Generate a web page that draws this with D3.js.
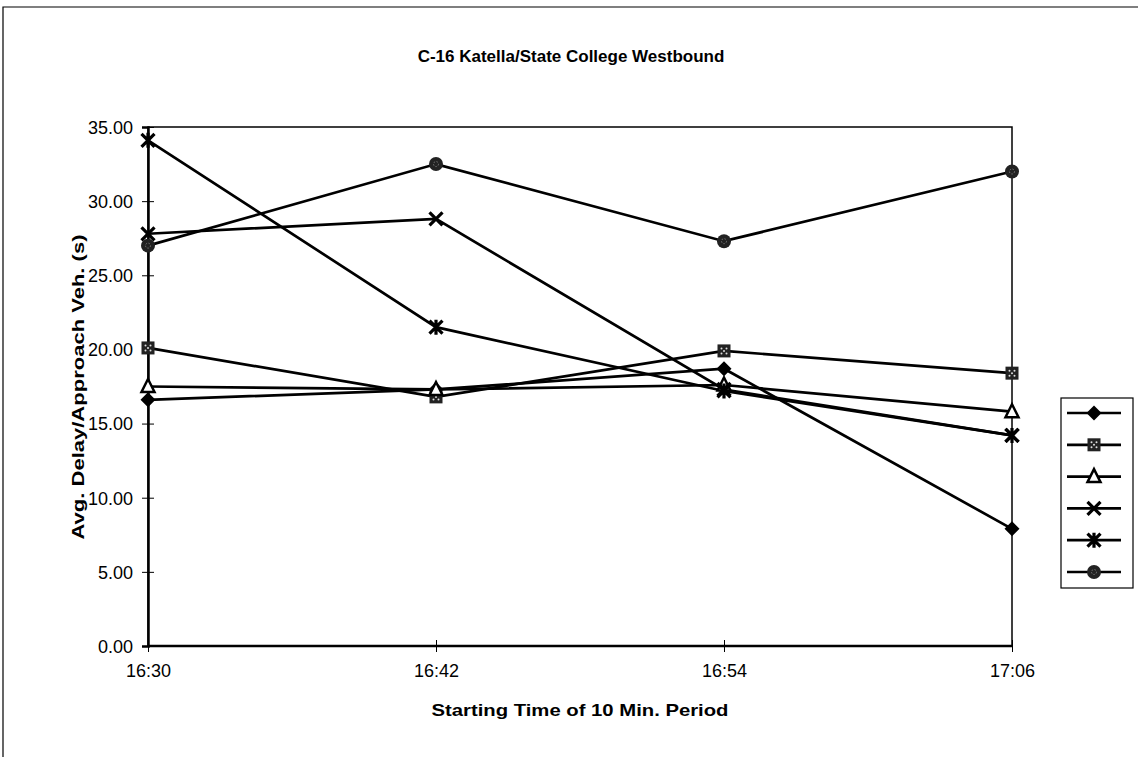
<!DOCTYPE html>
<html><head><meta charset="utf-8">
<script src="https://cdn.jsdelivr.net/npm/d3@7"></script>
<style>body{margin:0;background:#fff}svg{display:block}text{font-family:"Liberation Sans",Arial,sans-serif;fill:#000}</style>
</head><body>
<script>
const categories = ["16:30","16:42","16:54","17:06"];
const yTicks = [0,5,10,15,20,25,30,35];
const seriesDiamond  = [16.6, 17.3, 18.7, 7.9];
const seriesSquare   = [20.1, 16.8, 19.9, 18.4];
const seriesTriangle = [17.5, 17.3, 17.6, 15.8];
const seriesX        = [27.8, 28.8, 17.3, 14.2];
const seriesStar     = [34.1, 21.5, 17.2, 14.2];
const seriesCircle   = [27.0, 32.5, 27.3, 32.0];

const series = [
  {v: seriesDiamond, m: "diamond"},
  {v: seriesSquare, m: "square"},
  {v: seriesTriangle, m: "triangle"},
  {v: seriesX, m: "x"},
  {v: seriesStar, m: "star"},
  {v: seriesCircle, m: "circle"}
];

const W = 1138, H = 757;
const svg = d3.select("body").append("svg").attr("width", W).attr("height", H);
const L = 148, R = 1012, T = 127, B = 646;
const x = d3.scalePoint().domain(categories).range([L, R]);
const y = d3.scaleLinear().domain([0, 35]).range([B, T]);

// outer border
svg.append("path").attr("d", `M3,${H}V7H${W}`).attr("fill","none").attr("stroke","#000").attr("stroke-width",1.2);

svg.append("text").attr("x", 571).attr("y", 62).attr("text-anchor","middle")
  .attr("font-size", 17).attr("font-weight","bold")
  .text("C-16 Katella/State College Westbound");

// plot border
svg.append("rect").attr("x", L).attr("y", T).attr("width", R-L).attr("height", B-T)
  .attr("fill","none").attr("stroke","#000").attr("stroke-width",1.5);

const yAxis = d3.axisLeft(y).tickValues(yTicks).tickFormat(d3.format(".2f")).tickSize(6).tickPadding(6);
const gy = svg.append("g").attr("transform", `translate(${L},0)`).call(yAxis);
gy.selectAll(".tick line").attr("x2", 6).attr("x1",-6).attr("stroke-width",1);
gy.select(".domain").attr("stroke-width",2.5);
gy.selectAll("text").attr("font-size", 18).attr("dy","0.35em").attr("x",-15);

const xAxis = d3.axisBottom(x).tickSize(6).tickPadding(12);
const gx = svg.append("g").attr("transform", `translate(0,${B})`).call(xAxis);
gx.selectAll(".tick line").attr("y1",-6).attr("y2",6).attr("stroke-width",1);
gx.select(".domain").attr("stroke-width",2.5).attr("d", `M${L},0H${R}`);
gx.selectAll("text").attr("font-size", 18);

svg.append("text").attr("x", 580).attr("y", 716).attr("text-anchor","middle")
  .attr("font-size", 17).attr("font-weight","bold")
  .attr("textLength", 297).attr("lengthAdjust","spacingAndGlyphs")
  .text("Starting Time of 10 Min. Period");
svg.append("text").attr("transform","translate(84,387) rotate(-90)").attr("text-anchor","middle")
  .attr("font-size", 17).attr("font-weight","bold")
  .attr("textLength", 305).attr("lengthAdjust","spacingAndGlyphs")
  .text("Avg. Delay/Approach Veh. (s)");

function marker(g, type, cx, cy) {
  const s = 6.5;
  if (type === "diamond") {
    g.append("path").attr("d", `M${cx},${cy-s-1}L${cx+s+1},${cy}L${cx},${cy+s+1}L${cx-s-1},${cy}Z`).attr("fill","#000");
  } else if (type === "square") {
    g.append("rect").attr("x", cx-s).attr("y", cy-s).attr("width", 2*s).attr("height", 2*s).attr("fill","#222");
    [[-2.5,-2.5],[2.5,-2.5],[-2.5,2.5],[2.5,2.5],[0,0]].forEach(p=>
      g.append("circle").attr("cx",cx+p[0]).attr("cy",cy+p[1]).attr("r",1).attr("fill","#ddd"));
  } else if (type === "triangle") {
    g.append("path").attr("d", `M${cx},${cy-s-1}L${cx+s},${cy+s-1}L${cx-s},${cy+s-1}Z`)
      .attr("fill","#fff").attr("stroke","#000").attr("stroke-width",2.5);
  } else if (type === "x") {
    g.append("path").attr("d", `M${cx-s},${cy-s}L${cx+s},${cy+s}M${cx+s},${cy-s}L${cx-s},${cy+s}`)
      .attr("stroke","#000").attr("stroke-width",3.2);
  } else if (type === "star") {
    g.append("path").attr("d", `M${cx-s},${cy-s}L${cx+s},${cy+s}M${cx+s},${cy-s}L${cx-s},${cy+s}M${cx},${cy-s-1}V${cy+s+1}`)
      .attr("stroke","#000").attr("stroke-width",3.2);
  } else if (type === "circle") {
    g.append("circle").attr("cx",cx).attr("cy",cy).attr("r",s+0.5).attr("fill","#222");
    g.append("circle").attr("cx",cx).attr("cy",cy).attr("r",2.5).attr("fill","none").attr("stroke","#888").attr("stroke-width",0.8).attr("stroke-dasharray","1.5,1.5");
  }
}

const line = d3.line().x((d,i)=>x(categories[i])).y(d=>y(d));
const gl = svg.append("g");
series.forEach(s => {
  gl.append("path").attr("d", line(s.v)).attr("fill","none").attr("stroke","#000").attr("stroke-width",2.7);
});
const gm = svg.append("g");
series.forEach(s => s.v.forEach((v,i) => marker(gm, s.m, x(categories[i]), y(v))));

// legend
const lg = svg.append("g");
lg.append("rect").attr("x",1061).attr("y",398).attr("width",72).attr("height",190)
  .attr("fill","#fff").attr("stroke","#000").attr("stroke-width",1.2);
const ly = d3.scalePoint().domain(series.map((s,i)=>i)).range([413, 572]);
series.forEach((s,i) => {
  const yy = ly(i);
  lg.append("line").attr("x1",1067).attr("x2",1121).attr("y1",yy).attr("y2",yy).attr("stroke","#000").attr("stroke-width",2.7);
  marker(lg, s.m, 1094, yy);
});
</script>
</body></html>
